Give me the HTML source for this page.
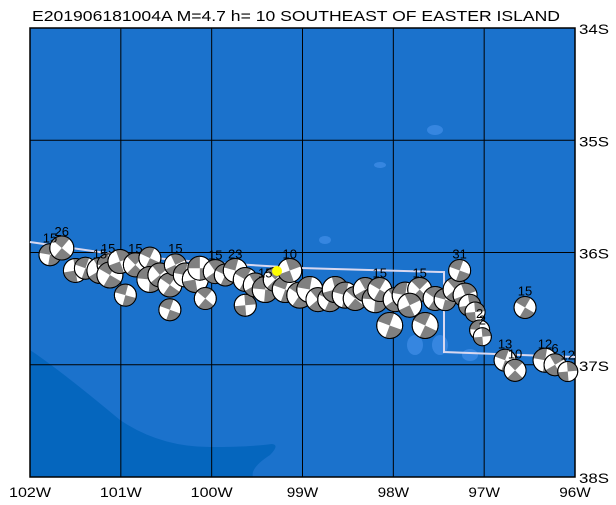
<!DOCTYPE html>
<html><head><meta charset="utf-8"><style>
body{margin:0;background:#fff;}
svg{display:block;font-family:"Liberation Sans",sans-serif;}
</style></head><body>
<svg id="map" width="616" height="505">
<text x="32" y="21" font-size="15" textLength="528" lengthAdjust="spacingAndGlyphs">E201906181004A M=4.7 h= 10 SOUTHEAST OF EASTER ISLAND</text>
</svg>
<script>
const lons=[-101.78,-101.65,-101.50,-101.39,-101.23,-101.14,-101.12,-100.95,-101.01,-100.84,-100.68,-100.68,-100.57,-100.46,-100.46,-100.40,-100.29,-100.18,-100.07,-100.13,-99.96,-99.85,-99.74,-99.63,-99.63,-99.52,-99.41,-99.30,-99.19,-99.14,-99.03,-98.92,-98.83,-98.70,-98.64,-98.53,-98.42,-98.31,-98.20,-98.15,-98.04,-97.98,-97.87,-97.71,-97.65,-97.82,-97.54,-97.43,-97.32,-97.27,-97.21,-97.16,-97.10,-97.05,-97.02,-96.55,-96.77,-96.66,-96.33,-96.22,-96.08];
const lats=[-36.02,-35.96,-36.16,-36.14,-36.16,-36.11,-36.20,-36.38,-36.08,-36.11,-36.05,-36.24,-36.20,-36.29,-36.51,-36.11,-36.20,-36.24,-36.41,-36.14,-36.17,-36.20,-36.16,-36.47,-36.24,-36.29,-36.33,-36.24,-36.33,-36.16,-36.38,-36.33,-36.42,-36.42,-36.33,-36.38,-36.41,-36.33,-36.42,-36.33,-36.65,-36.42,-36.38,-36.33,-36.65,-36.47,-36.41,-36.42,-36.33,-36.16,-36.38,-36.47,-36.53,-36.69,-36.75,-36.49,-36.96,-37.05,-36.96,-37.00,-37.06];
const depths=["15","26","","","15","15","","","","15","","","","","","15","","","","","15","","23","","","","15","","","10","","","","","","","","","","15","","","","15","","","","","","31","","","","2","2","15","13","10","12","6","12"];
const strikes=[10,40,80,20,60,0,30,15,70,45,25,5,50,35,20,65,10,80,40,0,55,25,15,85,30,60,5,45,20,70,35,10,50,25,75,15,40,60,5,30,20,55,10,45,25,65,35,15,50,20,70,80,85,5,85,30,20,45,10,60,85];
const mags=[11,12,12,11,13,11,13,11,12,12,11,13,12,12,11,11,12,13,11,12,12,11,12,11,12,12,13,12,13,12,13,13,12,12,13,13,12,12,13,12,13,12,13,12,13,12,12,11,12,11,12,11,10,10,9,11,11,11,12,11,10];
const lonTicks=[-102,-101,-100,-99,-98,-97,-96];
const latTicks=[-34,-35,-36,-37,-38];
const X0=30,X1=575,Y0=28,Y1=477;
const xs=lon=>X0+(lon+102)/6*(X1-X0);
const ys=lat=>Y0+(-lat-34)/4*(Y1-Y0);
const NS="http://www.w3.org/2000/svg";
const svg=document.getElementById('map');
function mk(t,a,p){const e=document.createElementNS(NS,t);for(const k in a)e.setAttribute(k,a[k]);(p||svg).appendChild(e);return e;}
let bg=mk('rect',{x:X0,y:Y0,width:X1-X0,height:Y1-Y0,fill:'#1b72cc'});


let deep=mk('path',{d:`M${X0} 350 Q60 370 120 420 Q160 447 210 447 Q250 447 272 444 Q280 445 270 455 Q250 468 253 ${Y1} L${X0} ${Y1} Z`,fill:'#0566be'});


[[435,130,8,5],[380,165,6,3],[325,240,6,4],[415,345,8,10],[440,345,8,10],[470,355,8,6]].forEach(p=>{let e=mk('ellipse',{cx:p[0],cy:p[1],rx:p[2],ry:p[3],fill:'#3686e0'});});
lonTicks.forEach(l=>{let e=mk('line',{x1:xs(l),x2:xs(l),y1:Y0,y2:Y1,stroke:'#000','stroke-width':1});
 const s=Math.abs(l)+'W';
 let t=mk('text',{x:xs(l),y:497,'font-size':14,'text-anchor':'middle',textLength:s.length*10.5,lengthAdjust:'spacingAndGlyphs'});t.textContent=s;});
latTicks.forEach(l=>{let e=mk('line',{x1:X0,x2:X1,y1:ys(l),y2:ys(l),stroke:'#000','stroke-width':1});
 let t=mk('text',{x:579,y:ys(l)+6,'font-size':14,textLength:30,lengthAdjust:'spacingAndGlyphs'});t.textContent=Math.abs(l)+'S';});
let fr=mk('rect',{x:X0,y:Y0,width:X1-X0,height:Y1-Y0,fill:'none',stroke:'#000','stroke-width':1.5});


let pb=mk('polyline',{points:'30,242 120,255 200,262 300,268 440,272 444,272 444,352 575,357',fill:'none',stroke:'#d8d8f0','stroke-width':2});


for(let i=0;i<lons.length;i++){
 const cx=xs(lons[i]),cy=ys(lats[i]),r=mags[i],a=strikes[i]*Math.PI/180;
 const g=mk('g',{});
 
 
 mk('circle',{cx,cy,r,fill:'#fff',stroke:'#000','stroke-width':1},g);
 for(const q of [0,Math.PI]){
  const a1=a+q,a2=a+q+Math.PI/2;
  mk('path',{d:`M${cx} ${cy} L${cx+r*Math.cos(a1)} ${cy+r*Math.sin(a1)} A${r} ${r} 0 0 1 ${cx+r*Math.cos(a2)} ${cy+r*Math.sin(a2)} Z`,fill:'#808080'},g);
 }
 mk('circle',{cx,cy,r,fill:'none',stroke:'#000','stroke-width':1},g);
}
for(let i=0;i<lons.length;i++){
 if(!depths[i])continue;
 let t=mk('text',{x:xs(lons[i]),y:ys(lats[i])-12,'font-size':13,'text-anchor':'middle'});
 t.textContent=depths[i];
 
 
}
let ev=mk('circle',{cx:277,cy:271,r:5,fill:'#ffff00'});


</script>
</body></html>
